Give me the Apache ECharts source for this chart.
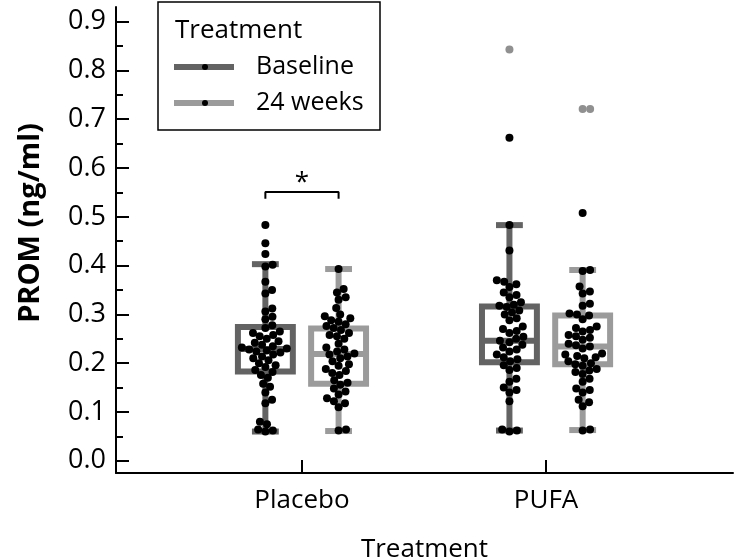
<!DOCTYPE html>
<html>
<head>
<meta charset="utf-8">
<script src="https://cdn.jsdelivr.net/npm/echarts@6/dist/echarts.min.js"></script>
<style>
html,body{margin:0;padding:0;background:#fff;}
#main{width:734px;height:560px;}
</style>
</head>
<body>
<div id="main"></div>
<script>
// ---------- data ----------
const categories = ['Placebo', 'PUFA'];
const treatments = ['Baseline', '24 weeks'];
const yTicks = [0, 0.1, 0.2, 0.3, 0.4, 0.5, 0.6, 0.7, 0.8, 0.9];
const yMinorTicks = [0.05, 0.15, 0.25, 0.35, 0.45, 0.55, 0.65, 0.75, 0.85];

// box stats: [lower whisker, Q1, median, Q3, upper whisker]
const statsPlaceboBaseline = [0.060, 0.183, 0.229, 0.274, 0.403];
const statsPlacebo24 = [0.061, 0.158, 0.219, 0.271, 0.393];
const statsPufaBaseline = [0.062, 0.202, 0.246, 0.316, 0.483];
const statsPufa24 = [0.063, 0.198, 0.234, 0.298, 0.391];

// individual observations
const placeboBaseline = [0.483, 0.446, 0.424, 0.402, 0.398, 0.367, 0.350, 0.343, 0.312, 0.306,
  0.295, 0.290, 0.278, 0.272, 0.265, 0.262, 0.258, 0.255, 0.250, 0.245,
  0.242, 0.238, 0.235, 0.232, 0.230, 0.228, 0.226, 0.224, 0.222, 0.218,
  0.214, 0.210, 0.206, 0.200, 0.196, 0.192, 0.186, 0.182, 0.176, 0.170,
  0.158, 0.152, 0.140, 0.125, 0.118, 0.080, 0.075, 0.064, 0.062, 0.060];
const placebo24 = [0.393, 0.352, 0.345, 0.335, 0.330, 0.313, 0.300, 0.296, 0.292, 0.288,
  0.285, 0.280, 0.276, 0.272, 0.268, 0.262, 0.258, 0.255, 0.250, 0.240,
  0.232, 0.228, 0.224, 0.220, 0.218, 0.214, 0.210, 0.204, 0.198, 0.195,
  0.188, 0.184, 0.180, 0.176, 0.165, 0.160, 0.156, 0.148, 0.142, 0.136,
  0.128, 0.122, 0.118, 0.110, 0.064, 0.062];
const pufaBaseline = [0.662, 0.483, 0.431, 0.370, 0.367, 0.362, 0.356, 0.345, 0.340, 0.335,
  0.325, 0.320, 0.318, 0.315, 0.308, 0.304, 0.300, 0.292, 0.288, 0.275,
  0.270, 0.266, 0.262, 0.254, 0.250, 0.246, 0.243, 0.238, 0.232, 0.228,
  0.224, 0.218, 0.212, 0.208, 0.204, 0.196, 0.190, 0.186, 0.168, 0.162,
  0.150, 0.145, 0.140, 0.122, 0.064, 0.062, 0.060];
const pufa24 = [0.508, 0.391, 0.389, 0.357, 0.347, 0.343, 0.322, 0.318, 0.302, 0.300,
  0.298, 0.290, 0.275, 0.272, 0.268, 0.265, 0.258, 0.255, 0.252, 0.248,
  0.240, 0.237, 0.234, 0.230, 0.220, 0.218, 0.215, 0.212, 0.210, 0.204,
  0.200, 0.198, 0.195, 0.188, 0.185, 0.182, 0.178, 0.168, 0.162, 0.148,
  0.145, 0.140, 0.125, 0.120, 0.112, 0.064, 0.062];

// outliers (fliers) drawn in grey
const fliersPlaceboBaseline = [];
const fliersPlacebo24 = [];
const fliersPufaBaseline = [0.843];
const fliersPufa24 = [0.721, 0.721];

// significance bracket (Placebo: Baseline vs 24 weeks)
const sigBracket = [0.537, 0.551];
const sigStar = 0.570;

// ---------- styling / layout constants ----------
const DODGE = 0.15;
const BOX_W = 0.225;
const CAP_W = 0.11;
const colorBase = '#636363';
const color24 = '#9b9b9b';
const FONT = '"Open Sans", "DejaVu Sans", sans-serif';

const chart = echarts.init(document.getElementById('main'), null, {renderer: 'canvas'});

function renderBox(params, api) {
  const x = api.value(0);
  const lo = api.coord([x, api.value(1)]);
  const q1 = api.coord([x, api.value(2)]);
  const md = api.coord([x, api.value(3)]);
  const q3 = api.coord([x, api.value(4)]);
  const hi = api.coord([x, api.value(5)]);
  const half = api.size([BOX_W, 0])[0] / 2;
  const capHalf = api.size([CAP_W, 0])[0] / 2;
  const c = api.visual('color');
  const cx = q1[0];
  const ls = {stroke: c, lineWidth: 6, fill: null};
  return {
    type: 'group',
    children: [
      {type: 'line', shape: {x1: cx, y1: hi[1], x2: cx, y2: q3[1]}, style: ls},
      {type: 'line', shape: {x1: cx, y1: q1[1], x2: cx, y2: lo[1]}, style: ls},
      {type: 'line', shape: {x1: cx - capHalf, y1: hi[1], x2: cx + capHalf, y2: hi[1]}, style: ls},
      {type: 'line', shape: {x1: cx - capHalf, y1: lo[1], x2: cx + capHalf, y2: lo[1]}, style: ls},
      {type: 'rect', shape: {x: cx - half, y: q3[1], width: 2 * half, height: q1[1] - q3[1]},
        style: {stroke: c, lineWidth: 6, fill: '#ffffff', lineJoin: 'miter'}},
      {type: 'line', shape: {x1: cx - half, y1: md[1], x2: cx + half, y2: md[1]}, style: ls}
    ]
  };
}

const option = {
  animation: false,
  backgroundColor: '#ffffff',
  textStyle: {fontFamily: FONT},
  grid: {left: 116, right: 1, top: 7, bottom: 87, containLabel: false, outerBoundsMode: 'none'},
  xAxis: {
    type: 'value', min: -0.762, max: 1.766,
    axisLine: {onZero: false, lineStyle: {color: '#000', width: 2}},
    axisTick: {show: true, inside: true, length: 13, customValues: [0, 1], lineStyle: {color: '#000', width: 2}},
    axisLabel: {customValues: [0, 1], formatter: v => categories[Math.round(v)], fontSize: 26, color: '#000', margin: 15, fontFamily: FONT},
    splitLine: {show: false},
    name: 'Treatment', nameLocation: 'middle', nameGap: 64,
    nameTextStyle: {fontSize: 26, color: '#000', fontFamily: FONT}
  },
  yAxis: [{
    type: 'value', min: -0.025, max: 0.93,
    axisLine: {show: true, onZero: false, lineStyle: {color: '#000', width: 2}},
    axisTick: {show: true, inside: true, length: 13, customValues: yTicks, lineStyle: {color: '#000', width: 2}},
    axisLabel: {customValues: yTicks, formatter: v => v.toFixed(1), fontSize: 27, color: '#000', margin: 10, fontFamily: FONT},
    splitLine: {show: false}
  }, {
    type: 'value', min: -0.025, max: 0.93, position: 'left', offset: 0,
    axisLine: {show: false, onZero: false},
    axisTick: {show: true, inside: true, length: 7, customValues: yMinorTicks, lineStyle: {color: '#000', width: 2}},
    axisLabel: {show: false},
    splitLine: {show: false}
  }],
  graphic: [
    {type: 'text', x: 31, y: 223, rotation: Math.PI / 2,
      style: {text: 'PROM (ng/ml)', font: 'bold 29px ' + FONT, fill: '#000', textAlign: 'center', textVerticalAlign: 'middle'}},
    {type: 'rect', shape: {x: 158, y: 2, width: 222, height: 128},
      style: {fill: '#fff', stroke: '#000', lineWidth: 1.5}, z: 100},
    {type: 'text', x: 175, y: 31, z: 101,
      style: {text: 'Treatment', font: '26px ' + FONT, fill: '#000', textVerticalAlign: 'middle'}},
    {type: 'line', shape: {x1: 174, y1: 67, x2: 234, y2: 67}, style: {stroke: colorBase, lineWidth: 6}, z: 101},
    {type: 'circle', shape: {cx: 205, cy: 67, r: 3}, style: {fill: '#000'}, z: 102},
    {type: 'text', x: 256, y: 67, z: 101,
      style: {text: treatments[0], font: '25px ' + FONT, fill: '#000', textVerticalAlign: 'middle'}},
    {type: 'line', shape: {x1: 174, y1: 103, x2: 234, y2: 103}, style: {stroke: color24, lineWidth: 6}, z: 101},
    {type: 'circle', shape: {cx: 205, cy: 103, r: 3}, style: {fill: '#000'}, z: 102},
    {type: 'text', x: 256, y: 103, z: 101,
      style: {text: treatments[1], font: '25px ' + FONT, fill: '#000', textVerticalAlign: 'middle'}}
  ],
  series: [
    {type: 'custom', name: treatments[0], renderItem: renderBox, itemStyle: {color: colorBase},
      data: [[0 - DODGE].concat(statsPlaceboBaseline), [1 - DODGE].concat(statsPufaBaseline)], z: 2},
    {type: 'custom', name: treatments[1], renderItem: renderBox, itemStyle: {color: color24},
      data: [[0 + DODGE].concat(statsPlacebo24), [1 + DODGE].concat(statsPufa24)], z: 2},
    {type: 'line', name: 'sig', symbol: 'none', lineStyle: {color: '#000', width: 2}, z: 3,
      data: [[-DODGE, sigBracket[0]], [-DODGE, sigBracket[1]], [DODGE, sigBracket[1]], [DODGE, sigBracket[0]]]},
    {type: 'custom', name: 'star', z: 3, data: [[0, sigStar]],
      renderItem: (p, api) => {
        const pt = api.coord([api.value(0), api.value(1)]);
        return {type: 'text', x: pt[0], y: pt[1],
          style: {text: '*', font: '26px ' + FONT, fill: '#000', textAlign: 'center', textVerticalAlign: 'middle'}};
      }},
    {type: 'scatter', name: 'fliers', symbolSize: 8, itemStyle: {color: '#909090', opacity: 1}, z: 4, data: []},
    {type: 'scatter', name: 'points', symbolSize: 8, itemStyle: {color: '#000', opacity: 1}, z: 5, data: []}
  ]
};

chart.setOption(option);

function swarm(values, xc, d) {
  const pts = values.map(v => chart.convertToPixel({gridIndex: 0}, [xc, v]));
  const order = pts.map((p, i) => i).sort((a, b) => pts[b][1] - pts[a][1]);
  const placed = [];
  order.forEach(i => {
    const cx = pts[i][0], y = pts[i][1];
    const cands = [0];
    placed.forEach(p => {
      const dy = p[1] - y;
      if (Math.abs(dy) < d) {
        const dx = Math.sqrt(d * d - dy * dy);
        cands.push(p[0] - cx + dx, p[0] - cx - dx);
      }
    });
    cands.sort((a, b) => Math.abs(a) - Math.abs(b));
    for (const c of cands) {
      const nx = cx + c;
      const ok = placed.every(p => (p[0] - nx) * (p[0] - nx) + (p[1] - y) * (p[1] - y) >= d * d - 0.01);
      if (ok) { placed.push([nx, y]); break; }
    }
  });
  return placed.map(p => chart.convertFromPixel({gridIndex: 0}, p));
}

const D = 7.5;
const points = [].concat(
  swarm(placeboBaseline, 0 - DODGE, D),
  swarm(placebo24, 0 + DODGE, D),
  swarm(pufaBaseline, 1 - DODGE, D),
  swarm(pufa24, 1 + DODGE, D)
);
const fliers = [].concat(
  swarm(fliersPlaceboBaseline, 0 - DODGE, D),
  swarm(fliersPlacebo24, 0 + DODGE, D),
  swarm(fliersPufaBaseline, 1 - DODGE, D),
  swarm(fliersPufa24, 1 + DODGE, D)
);

chart.setOption({series: [{}, {}, {}, {}, {data: fliers}, {data: points}]});
</script>
</body>
</html>
